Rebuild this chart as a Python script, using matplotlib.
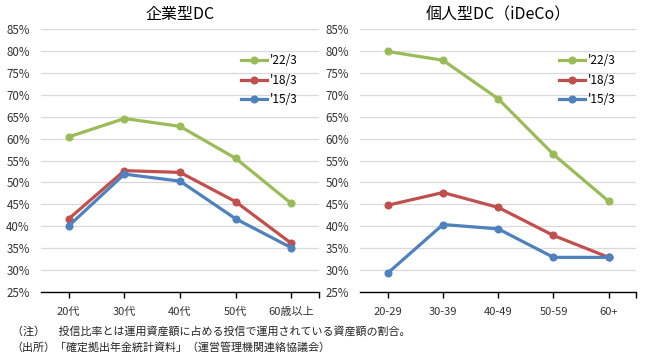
import matplotlib
matplotlib.use("Agg")
import matplotlib.pyplot as plt
from matplotlib.ticker import FixedLocator

plt.rcParams['font.family'] = ['Noto Sans CJK JP', 'DejaVu Sans']

corp_categories = ['20代', '30代', '40代', '50代', '60歳以上']
corp_22 = [60.4, 64.6, 62.8, 55.5, 45.2]
corp_18 = [41.7, 52.7, 52.3, 45.6, 36.1]
corp_15 = [40.1, 51.9, 50.3, 41.7, 35.1]

ideco_categories = ['20-29', '30-39', '40-49', '50-59', '60+']
ideco_22 = [79.9, 77.9, 69.1, 56.4, 45.7]
ideco_18 = [44.8, 47.7, 44.3, 37.9, 32.9]
ideco_15 = [29.3, 40.4, 39.4, 32.9, 32.9]

series_labels = ["'22/3", "'18/3", "'15/3"]
colors = ['#9BBB59', '#C0504D', '#4F81BD']
yticks = [25, 30, 35, 40, 45, 50, 55, 60, 65, 70, 75, 80, 85]

fig = plt.figure(figsize=(6.5, 3.6), dpi=100)
ax1 = fig.add_axes([0.063, 0.189, 0.428, 0.730])
ax2 = fig.add_axes([0.554, 0.189, 0.425, 0.730])

def draw(ax, cats, s22, s18, s15, title, legx):
    x = list(range(len(cats)))
    for vals, lab, c in zip([s22, s18, s15], series_labels, colors):
        ax.plot(x, vals, color=c, lw=2.3, marker='o', ms=4.8, label=lab)
    ax.set_xlim(-0.5, len(cats) - 0.5)
    ax.set_ylim(25, 85)
    ax.set_yticks(yticks)
    ax.set_yticklabels([f'{v}%' for v in yticks], fontsize=8.3, color='#333333')
    ax.set_xticks(x)
    ax.set_xticklabels(cats, fontsize=8, color='#333333')
    ax.xaxis.set_minor_locator(FixedLocator([len(cats) - 0.5]))
    ax.tick_params(axis='x', which='both', direction='out', length=4, width=1, color='black', pad=7)
    ax.tick_params(axis='y', length=0, pad=8)
    ax.grid(axis='y', color='#D9D9D9', lw=0.9)
    ax.set_axisbelow(True)
    for s in ['top', 'right', 'left']:
        ax.spines[s].set_visible(False)
    ax.spines['bottom'].set_color('black')
    ax.spines['bottom'].set_linewidth(1.0)
    ax.set_title(title, fontsize=11.5, pad=7)
    ax.legend(loc='upper left', bbox_to_anchor=(legx, 0.945), frameon=False,
              fontsize=8.5, handlelength=2.2, handletextpad=0.25, labelspacing=0.55)

draw(ax1, corp_categories, corp_22, corp_18, corp_15, '企業型DC', 0.68)
draw(ax2, ideco_categories, ideco_22, ideco_18, ideco_15, '個人型DC（iDeCo）', 0.68)

fig.text(0.018, 0.080, '（注）　 投信比率とは運用資産額に占める投信で運用されている資産額の割合。', fontsize=7.9, color='#222222', va='center')
fig.text(0.018, 0.035, '（出所）「確定拠出年金統計資料」（運営管理機関連絡協議会）', fontsize=7.9, color='#222222', va='center')

fig.savefig('out.png', dpi=100)
